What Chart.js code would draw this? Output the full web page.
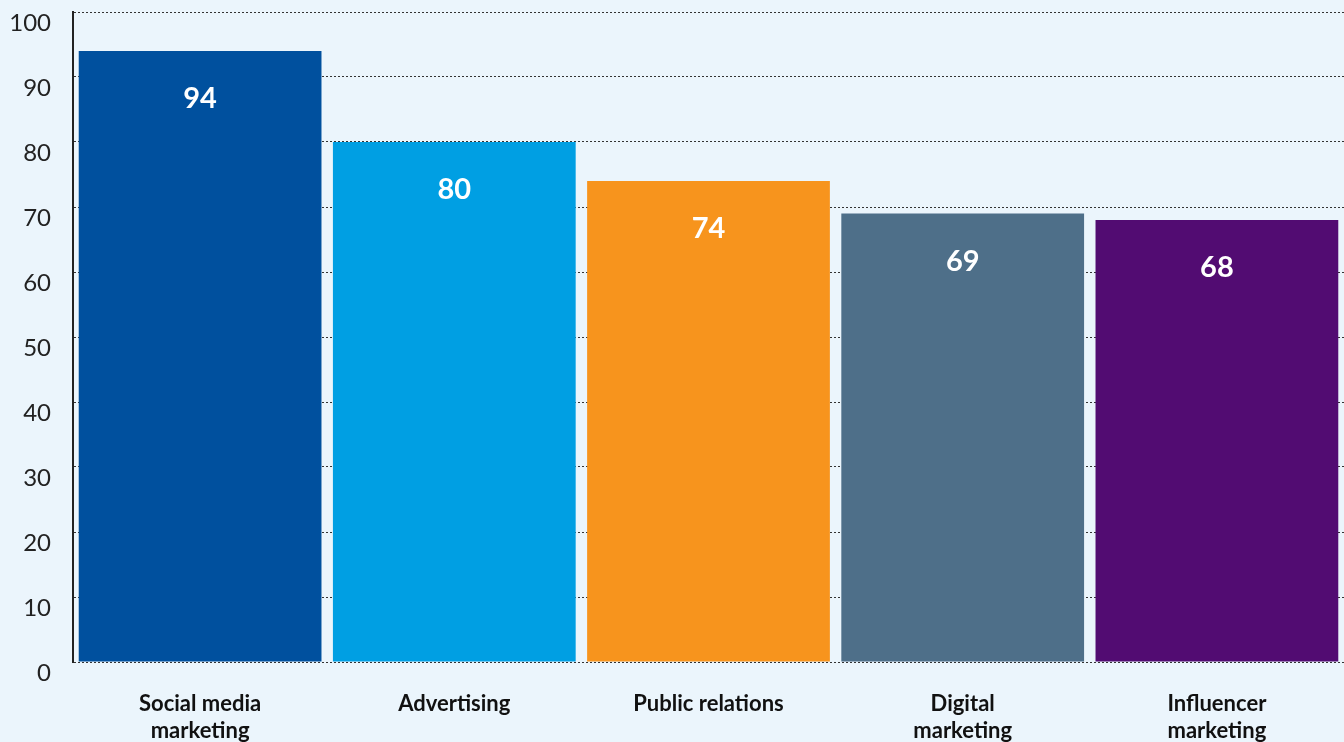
<!DOCTYPE html>
<html>
<head>
<meta charset="utf-8">
<title>Marketing channels</title>
<script src="https://cdn.jsdelivr.net/npm/chart.js@4"></script>
<style>
    html, body {
        margin: 0;
        padding: 0;
        background: #ebf5fc;
        overflow: hidden;
    }
    #wrap {
        position: relative;
        width: 1344px;
        height: 742px;
    }
</style>
</head>
<body>
<div id="wrap"><canvas id="chart"></canvas></div>
<script>
// ---------- Data ----------
var categories = [
    ['Social media', 'marketing'],
    'Advertising',
    'Public relations',
    ['Digital', 'marketing'],
    ['Influencer', 'marketing']
];
var values = [94, 80, 74, 69, 68];
var barColors = ['#00509e', '#009fe3', '#f7941d', '#4e6f89', '#520c72'];
var yTicks = [0, 10, 20, 30, 40, 50, 60, 70, 80, 90, 100];

var FONT = 'Lato, "Open Sans", sans-serif';

// ---------- Value labels drawn inside each bar ----------
var valueLabels = {
    id: 'valueLabels',
    afterDatasetsDraw: function(chart) {
        var ctx = chart.ctx;
        var meta = chart.getDatasetMeta(0);
        ctx.save();
        ctx.fillStyle = '#ffffff';
        ctx.font = 'bold 29px ' + FONT;
        ctx.textAlign = 'center';
        ctx.textBaseline = 'middle';
        meta.data.forEach(function(bar, i) {
            ctx.fillText(String(values[i]), bar.x, bar.y + 48);
        });
        ctx.restore();
    }
};

// ---------- Chart ----------
var ctx = document.getElementById('chart').getContext('2d');
var chart = new Chart(ctx, {
    type: 'bar',
    data: {
        labels: categories,
        datasets: [{
            data: values,
            backgroundColor: barColors,
            borderWidth: 0,
            barPercentage: 0.955,
            categoryPercentage: 1
        }]
    },
    options: {
        responsive: true,
        maintainAspectRatio: false,
        animation: false,
        layout: {
            padding: { top: 12, right: 0, bottom: 0, left: 0 }
        },
        plugins: {
            legend: { display: false },
            tooltip: { enabled: false }
        },
        scales: {
            x: {
                grid: { display: false, drawTicks: false },
                border: { display: false },
                ticks: {
                    color: '#111111',
                    font: { family: FONT, size: 22, weight: 'bold', lineHeight: 1.2 },
                    padding: 29,
                    maxRotation: 0,
                    autoSkip: false
                },
                afterFit: function(scale) {
                    scale.height = 80;
                    scale.paddingLeft = 0;
                    scale.paddingRight = 0;
                }
            },
            y: {
                min: 0,
                max: 100,
                afterBuildTicks: function(scale) {
                    scale.ticks = yTicks.map(function(v) { return { value: v }; });
                },
                grid: {
                    color: '#333333',
                    lineWidth: 1,
                    drawTicks: false
                },
                border: {
                    display: true,
                    color: '#222222',
                    width: 2,
                    dash: [2, 2]
                },
                ticks: {
                    color: '#222222',
                    font: { family: FONT, size: 24 },
                    padding: 22,
                    labelOffset: 11
                },
                afterFit: function(scale) {
                    scale.width = 73;
                    // the labels sit below their lines, so no extra room on top
                    scale.paddingTop = 0;
                    scale.paddingBottom = 0;
                }
            }
        }
    },
    plugins: [valueLabels]
});
</script>
</body>
</html>
